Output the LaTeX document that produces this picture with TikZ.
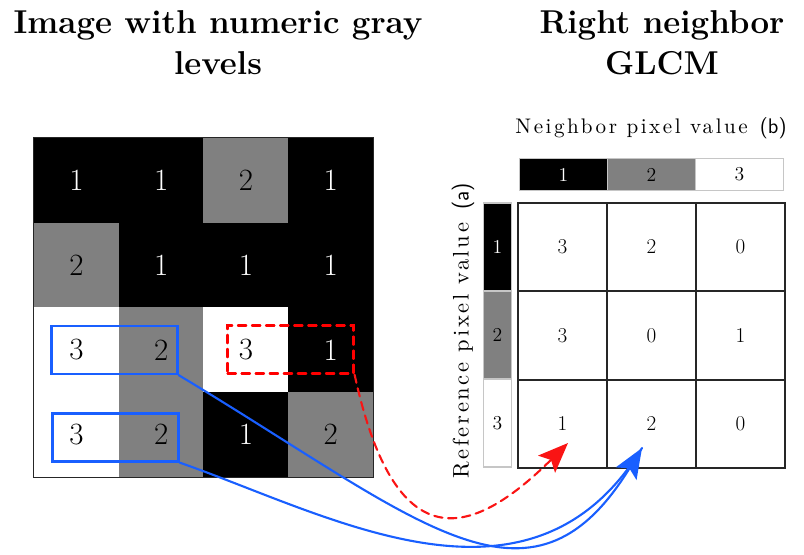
\documentclass[tikz,border=0pt]{standalone}
\usepackage{fontspec}
\newfontfamily\axisfont[LetterSpace=12]{lmroman10-regular.otf}
\usepackage{tikz}
\usetikzlibrary{arrows.meta}
\usepackage{xcolor}
\definecolor{selblue}{RGB}{25,95,255}
\definecolor{selred}{RGB}{250,20,20}

\begin{document}
\begin{tikzpicture}[x=0.025cm,y=-0.025cm,>={Stealth[length=7.5mm,width=6mm,inset=1.5mm]},line cap=round,
  pix/.style={minimum width=2.12cm,minimum height=2.12cm,inner sep=0pt,font=\fontsize{22}{26}\selectfont},
  pxblack/.style={pix,fill=black,text=white},
  pxgray/.style={pix,fill=gray!100!white},
  pxwhite/.style={pix,fill=white},
  glcm/.style={minimum width=2.225cm,minimum height=2.21cm,inner sep=0pt,draw=gray!30!black,line width=1.1pt,font=\fontsize{15}{18}\selectfont},
  hdr/.style={minimum width=2.2cm,minimum height=0.82cm,inner sep=0pt,draw=gray!45,line width=0.8pt,font=\fontsize{14}{16}\selectfont},
  side/.style={minimum width=0.72cm,minimum height=2.2cm,inner sep=0pt,draw=gray!45,line width=0.8pt,font=\fontsize{14}{16}\selectfont},
  title/.style={align=center,font=\fontsize{23.5}{29}\selectfont\bfseries},
  axis/.style={font=\axisfont\fontsize{15}{17}\selectfont},
  pair/.style={minimum width=3.15cm,minimum height=1.2cm,inner sep=0pt,line width=1.5pt}]
\useasboundingbox (0,0) rectangle (804,554);
% titles
\node[title] (lefttitle) at (218,43) {Image with numeric gray\\levels};
\node[title] (righttitle) at (662,43) {Right neighbor\\GLCM};
% image pixels
\node[pxblack] (p11) at (76.4,180.4) {1};
\node[pxblack] (p12) at (161.1,180.4) {1};
\node[pxgray] (p13) at (245.9,180.4) {2};
\node[pxblack] (p14) at (330.6,180.4) {1};
\node[pxgray] (p21) at (76.4,265.1) {2};
\node[pxblack] (p22) at (161.1,265.1) {1};
\node[pxblack] (p23) at (245.9,265.1) {1};
\node[pxblack] (p24) at (330.6,265.1) {1};
\node[pxwhite] (p31) at (76.4,349.9) {3};
\node[pxgray] (p32) at (161.1,349.9) {2};
\node[pxwhite] (p33) at (245.9,349.9) {3};
\node[pxblack] (p34) at (330.6,349.9) {1};
\node[pxwhite] (p41) at (76.4,434.6) {3};
\node[pxgray] (p42) at (161.1,434.6) {2};
\node[pxblack] (p43) at (245.9,434.6) {1};
\node[pxgray] (p44) at (330.6,434.6) {2};
\draw[gray!30!black,line width=0.9pt] (p11.north west) rectangle (p44.south east);
% neighbor header
\node[axis] (nblabel) at (651,128) {Neighbor pixel value \textsf{(b)}};
\node[hdr,fill=black,text=white] (n1) at (563.5,174.5) {1};
\node[hdr,fill=gray] (n2) at (651.5,174.5) {2};
\node[hdr,fill=white] (n3) at (739.5,174.5) {3};
% reference side bar
\node[axis,rotate=90,font=\axisfont\fontsize{16}{18}\selectfont] (reflabel) at (463,331) {Reference pixel value \textsf{(a)}};
\node[side,fill=black,text=white] (r1) at (497.5,247) {1};
\node[side,fill=gray] (r2) at (497.5,335) {2};
\node[side,fill=white] (r3) at (497.5,423) {3};
% co-occurrence counts
\node[glcm] (g11) at (562.5,247) {3};
\node[glcm] (g12) at (651.5,247) {2};
\node[glcm] (g13) at (740.5,247) {0};
\node[glcm] (g21) at (562.5,335.5) {3};
\node[glcm] (g22) at (651.5,335.5) {0};
\node[glcm] (g23) at (740.5,335.5) {1};
\node[glcm] (g31) at (562.5,424) {1};
\node[glcm] (g32) at (651.5,424) {2};
\node[glcm] (g33) at (740.5,424) {0};
% pixel pairs
\node[pair,draw=selblue] (pairA) at (114.5,350) {};
\node[pair,draw=selblue] (pairB) at (115.5,437.5) {};
\node[pair,draw=red,dash pattern=on 6pt off 4pt] (pairC) at (290.5,349.5) {};
\coordinate (redtip) at (568,443);
\coordinate (bluetip) at (642,448);
\draw[->,selred,line width=1.5pt,dash pattern=on 6pt off 4pt] (pairC.south east) .. controls (395,560) and (470,540) .. (redtip);
\draw[->,selblue,line width=1.5pt] (pairA.south east) .. controls (420,520) and (530,630) .. (bluetip);
\draw[selblue,line width=1.5pt] (pairB.south east) .. controls (330,515) and (530,630) .. (bluetip);
\end{tikzpicture}
\end{document}
